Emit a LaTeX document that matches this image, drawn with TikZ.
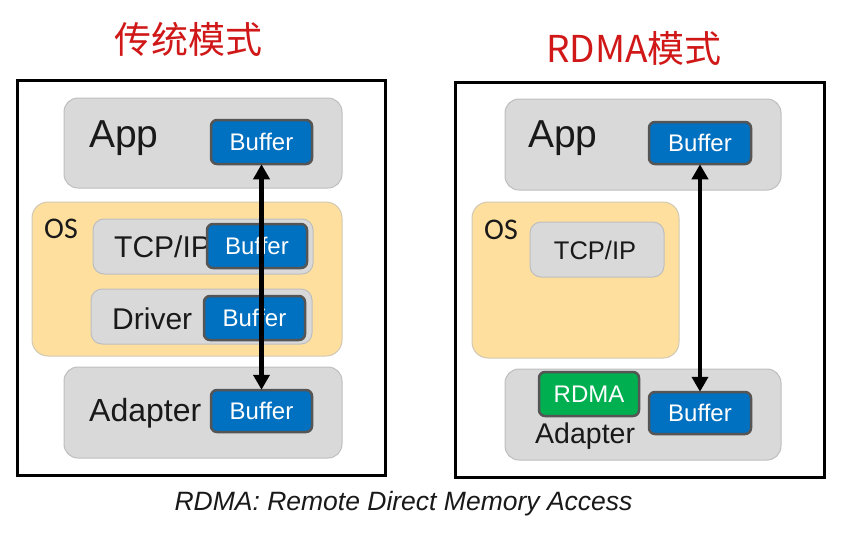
\documentclass[tikz,border=0pt]{standalone}
\usepackage{fontspec}
\setmainfont{Liberation Sans}
\newfontfamily\cjk{Noto Sans CJK SC}
\newfontfamily\osfont{Carlito}
\usetikzlibrary{arrows.meta}
\definecolor{titlered}{RGB}{208,24,24}
\definecolor{boxgray}{RGB}{217,217,217}
\definecolor{boxedge}{RGB}{190,190,190}
\definecolor{osfill}{RGB}{254,223,158}
\definecolor{bufblue}{RGB}{0,112,192}
\definecolor{bufedge}{RGB}{85,85,85}
\definecolor{rdmagreen}{RGB}{0,176,80}
\definecolor{txt}{RGB}{25,25,25}
\tikzset{
  frame/.style={draw=black, line width=3pt, inner sep=0pt, outer sep=0pt},
  graybox/.style={draw=boxedge, fill=boxgray, line width=1pt, rounded corners=14pt, inner sep=0pt},
  osbox/.style={draw=boxedge!70!osfill, fill=osfill, line width=1pt, rounded corners=16pt, inner sep=0pt},
  bufbox/.style={draw=bufedge, fill=bufblue, line width=2.5pt, rounded corners=6pt, inner sep=0pt,
     text=white, font=\fontsize{24}{24}\selectfont},
  rdmabox/.style={bufbox, fill=rdmagreen},
  lbl/.style={text=txt, inner sep=0pt, font=\fontsize{30}{30}\selectfont},
  biglbl/.style={text=txt, inner sep=0pt, font=\fontsize{39}{39}\selectfont},
  oslbl/.style={text=txt, inner sep=0pt, font=\osfont\fontsize{30}{30}\selectfont},
  title/.style={text=titlered, inner sep=0pt, font=\cjk\fontsize{37}{37}\selectfont},
  dbl/.style={line width=4.5pt, {Triangle[width=16pt,length=15pt]}-{Triangle[width=16pt,length=15pt]}, shorten <=-1pt, shorten >=-1pt}
}
\begin{document}
\begin{tikzpicture}[x=1pt,y=-1pt]
\useasboundingbox (0,0) rectangle (864,558);
% titles
\node[title] (tL) at (188,39) {传统模式};
\node[title] (tR) at (634,48) {RDMA模式};
% left frame
\node[frame, minimum width=368pt, minimum height=395pt] (bigL) at (201,277.5) {};
\node[graybox, minimum width=278pt, minimum height=90pt] (appL) at (203,143) {};
\node[biglbl, anchor=west] (appLt) at (89,138) {App};
\node[bufbox, minimum width=101pt, minimum height=44pt] (bufAppL) at (261.5,142) {Buffer};
\node[osbox, minimum width=310pt, minimum height=154pt] (osL) at (187,279) {};
\node[oslbl, anchor=west] (osLt) at (44,229) {OS};
\node[graybox, rounded corners=11pt, minimum width=220pt, minimum height=55pt] (tcpL) at (203,246.5) {};
\node[lbl, anchor=west] (tcpLt) at (114,247) {TCP/IP};
\node[bufbox, minimum width=100pt, minimum height=44pt] (bufTcpL) at (257,246) {Buffer};
\node[graybox, rounded corners=11pt, minimum width=221pt, minimum height=55pt] (drvL) at (201.5,316.5) {};
\node[lbl, anchor=west] (drvLt) at (112,319) {Driver};
\node[bufbox, minimum width=101pt, minimum height=44pt] (bufDrvL) at (254.5,318) {Buffer};
\node[graybox, minimum width=278pt, minimum height=91pt] (adL) at (203,412.5) {};
\node[lbl, anchor=west, font=\fontsize{32}{32}\selectfont] (adLt) at (89,413) {Adapter};
\node[bufbox, minimum width=101pt, minimum height=42pt] (bufAdL) at (261.5,411) {Buffer};
\draw[dbl] (bufAppL.south) -- (bufAdL.north);
% right frame
\node[frame, minimum width=369pt, minimum height=395pt] (bigR) at (639.5,279.5) {};
\node[graybox, minimum width=276pt, minimum height=91pt] (appR) at (643,144.5) {};
\node[biglbl, anchor=west] (appRt) at (528,138) {App};
\node[bufbox, minimum width=102pt, minimum height=42pt] (bufAppR) at (700,143) {Buffer};
\node[osbox, minimum width=207pt, minimum height=156pt] (osR) at (575.5,280) {};
\node[oslbl, anchor=west] (osRt) at (484,230) {OS};
\node[graybox, rounded corners=11pt, minimum width=134pt, minimum height=55pt] (tcpR) at (597,249.5) {};
\node[lbl, font=\fontsize{25.5}{25.5}\selectfont] (tcpRt) at (595,250) {TCP/IP};
\node[graybox, minimum width=276pt, minimum height=91pt] (adR) at (643,414.5) {};
\node[rdmabox, minimum width=100pt, minimum height=44pt] (rdma) at (589,394) {RDMA};
\node[bufbox, minimum width=102pt, minimum height=42pt] (bufAdR) at (700,413) {Buffer};
\node[lbl, anchor=west, font=\fontsize{28.5}{28.5}\selectfont] (adRt) at (535,436) {Adapter};
\draw[dbl] (bufAppR.south) -- (bufAdR.north);
% caption
\node[text=txt, inner sep=0pt, font=\itshape\fontsize{26.5}{26.5}\selectfont] (cap) at (403.5,504) {RDMA: Remote Direct Memory Access};
\end{tikzpicture}
\end{document}
